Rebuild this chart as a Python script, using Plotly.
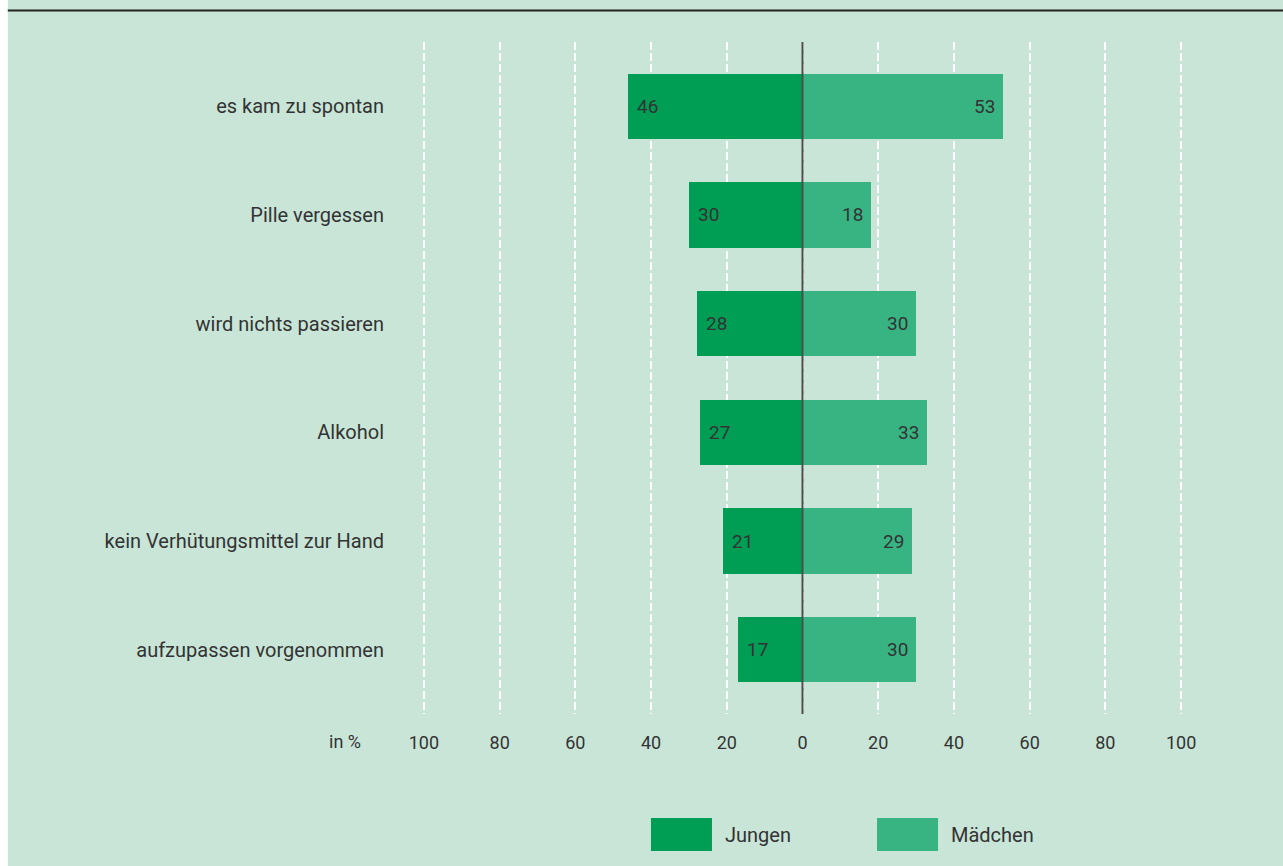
import plotly.graph_objects as go

# Gründe für ungeschützten Geschlechtsverkehr (Angaben in %)
categories = [
    "es kam zu spontan",
    "Pille vergessen",
    "wird nichts passieren",
    "Alkohol",
    "kein Verhütungsmittel zur Hand",
    "aufzupassen vorgenommen",
]
jungen = [46, 30, 28, 27, 21, 17]
maedchen = [53, 18, 30, 33, 29, 30]
tick_values = [-100, -80, -60, -40, -20, 0, 20, 40, 60, 80, 100]
tick_labels = ["100", "80", "60", "40", "20", "0", "20", "40", "60", "80", "100"]

C_JUNGEN = "#009D55"
C_MAEDCHEN = "#38B483"
BG = "#C9E5D7"
TEXT = "#333333"
FONT = "Roboto"

W, H = 1283, 866
L, R, T, B = 405.1, 83.1, 42, 152
plot_w = W - L - R
plot_h = H - T - B


def px_x(px):
    return (px - L) / plot_w


def px_y(py):
    return 1 - (py - T) / plot_h


fig = go.Figure()
fig.add_trace(go.Bar(
    y=categories, x=[-v for v in jungen], orientation="h", name="Jungen",
    marker=dict(color=C_JUNGEN, line=dict(width=0)), width=0.6,
    hoverinfo="skip",
))
fig.add_trace(go.Bar(
    y=categories, x=maedchen, orientation="h", name="Mädchen",
    marker=dict(color=C_MAEDCHEN, line=dict(width=0)), width=0.6,
    hoverinfo="skip",
))

annotations = []
for cat, vj, vm in zip(categories, jungen, maedchen):
    annotations.append(dict(x=-vj, y=cat, xref="x", yref="y", text=str(vj),
                            showarrow=False, xanchor="left", xshift=7,
                            font=dict(family=FONT, size=19, color=TEXT)))
    annotations.append(dict(x=vm, y=cat, xref="x", yref="y", text=str(vm),
                            showarrow=False, xanchor="right", xshift=-6,
                            font=dict(family=FONT, size=19, color=TEXT)))

# axis unit caption
annotations.append(dict(x=px_x(363), y=px_y(741), xref="paper", yref="paper",
                        text="in %", showarrow=False, xanchor="right", yanchor="middle",
                        font=dict(family=FONT, size=18, color=TEXT)))

# legend entries
legend_items = [("Jungen", C_JUNGEN, 651), ("Mädchen", C_MAEDCHEN, 877)]
shapes = []
for label, color, x0 in legend_items:
    shapes.append(dict(type="rect", xref="paper", yref="paper",
                       x0=px_x(x0), x1=px_x(x0 + 61), y0=px_y(851), y1=px_y(818),
                       fillcolor=color, line=dict(width=0)))
    annotations.append(dict(x=px_x(x0 + 72), y=px_y(835), xref="paper", yref="paper",
                            text=label, showarrow=False, xanchor="left", yanchor="middle",
                            font=dict(family=FONT, size=20, color=TEXT)))

# zero line above the bars
shapes.append(dict(type="line", xref="x", yref="paper", x0=0, x1=0, y0=0, y1=1,
                   line=dict(color="#4D4D4D", width=2), layer="above"))
# white strip on the left edge
shapes.append(dict(type="rect", xref="paper", yref="paper",
                   x0=px_x(-2), x1=px_x(8), y0=px_y(H + 2), y1=px_y(-2),
                   fillcolor="white", line=dict(width=0), layer="below"))
# rule at the top
shapes.append(dict(type="line", xref="paper", yref="paper",
                   x0=px_x(8), x1=px_x(W + 2), y0=px_y(10.5), y1=px_y(10.5),
                   line=dict(color="#222222", width=2)))

fig.update_layout(
    width=W, height=H,
    margin=dict(l=L, r=R, t=T, b=B, pad=0),
    paper_bgcolor=BG, plot_bgcolor=BG,
    barmode="overlay", bargap=0,
    showlegend=False,
    font=dict(family=FONT, size=18, color=TEXT),
    xaxis=dict(
        range=[-105, 105], tickvals=tick_values, ticktext=tick_labels,
        showgrid=True, gridcolor="white", gridwidth=2, griddash="8px,3px",
        zeroline=False, showline=False, ticks="", ticklabelstandoff=16,
        tickfont=dict(family=FONT, size=18, color=TEXT), fixedrange=True,
    ),
    yaxis=dict(
        categoryorder="array", categoryarray=categories,
        range=[5.59, -0.59], showgrid=False, zeroline=False, showline=False,
        ticks="", ticklabelstandoff=20,
        tickfont=dict(family=FONT, size=20, color=TEXT), fixedrange=True,
    ),
    shapes=shapes,
    annotations=annotations,
)

fig.write_html("out.html")
